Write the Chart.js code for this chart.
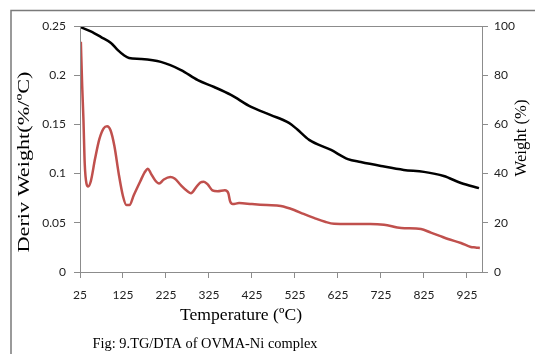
<!DOCTYPE html>
<html>
<head>
<meta charset="utf-8">
<script src="https://cdn.jsdelivr.net/npm/chart.js@4.4.1/dist/chart.umd.min.js"></script>
<style>
  html, body { margin: 0; padding: 0; background: #fff; }
  #wrap { width: 535px; height: 354px; position: relative; }
</style>
</head>
<body>
<div id="wrap"><canvas id="tgChart" width="535" height="354"></canvas></div>
<script>
// TG curve (weight %, right axis)
const tgTemps = [25, 50, 74, 97, 113, 128, 139, 167, 213, 260, 299, 337, 376, 423, 469, 511, 530, 558, 609, 648, 678, 725, 778, 825, 871, 911, 953];
const tgWeight = [99.6, 97.8, 95.5, 93.1, 90.2, 88.0, 87.0, 86.6, 85.4, 82.1, 78.0, 75.2, 72.0, 67.1, 63.8, 60.6, 58.0, 53.7, 49.6, 45.9, 44.7, 43.1, 41.5, 40.7, 39.0, 36.2, 34.1];

// DTA curve (derivative weight, left axis)
const dtaTemps = [27, 30, 33, 36, 40, 44, 50, 60, 70, 80, 88, 96, 105, 115, 125, 133, 140, 150, 165, 175, 183, 190, 200, 209, 220, 235, 245, 260, 275, 283, 295, 305, 313, 322, 333, 345, 362, 370, 374, 380, 395, 425, 460, 492, 523, 545, 569, 595, 616, 650, 700, 732, 772, 818, 841, 860, 881, 911, 934, 945, 955];
const dtaDeriv = [0.234, 0.19, 0.155, 0.11, 0.09, 0.087, 0.092, 0.115, 0.135, 0.146, 0.148, 0.144, 0.128, 0.1, 0.077, 0.068, 0.068, 0.078, 0.092, 0.101, 0.105, 0.1, 0.093, 0.09, 0.094, 0.0965, 0.095, 0.088, 0.082, 0.08, 0.086, 0.091, 0.0918, 0.089, 0.083, 0.082, 0.083, 0.08, 0.072, 0.069, 0.07, 0.069, 0.068, 0.067, 0.063, 0.059, 0.055, 0.051, 0.049, 0.0488, 0.0488, 0.048, 0.0447, 0.0437, 0.04, 0.037, 0.0335, 0.0295, 0.0254, 0.025, 0.0244];

const xTickValues = [25, 125, 225, 325, 425, 525, 625, 725, 825, 925];

const axisGray = '#8c8c8c';
const tickFont = { family: 'Lato', size: 12 };

// draws text squeezed/stretched to a given width
function fitText(ctx, text, cx, cy, font, width, rot) {
  ctx.save();
  ctx.font = font;
  ctx.fillStyle = '#000';
  ctx.textAlign = 'center';
  ctx.textBaseline = 'middle';
  ctx.translate(cx, cy);
  if (rot) ctx.rotate(rot);
  const w = ctx.measureText(text).width;
  ctx.scale(width / w, 1);
  ctx.fillText(text, 0, 0);
  ctx.restore();
}

const decorPlugin = {
  id: 'decor',
  beforeDraw(chart) {
    const ctx = chart.ctx;
    ctx.save();
    ctx.strokeStyle = '#7a7a7a';
    ctx.lineWidth = 1.5;
    ctx.beginPath();
    ctx.moveTo(11, 354);
    ctx.lineTo(11, 10.5);
    ctx.lineTo(535, 10.5);
    ctx.stroke();
    ctx.restore();
  },
  afterDraw(chart) {
    const ctx = chart.ctx;
    const a = chart.chartArea;
    ctx.save();
    ctx.strokeStyle = axisGray;
    ctx.lineWidth = 1;
    ctx.strokeRect(a.left + 0.5, a.top + 0.5, a.right - a.left, a.bottom - a.top);
    ctx.restore();
    fitText(ctx, 'Temperature (ºC)', 241, 316, '17px "Liberation Serif"', 122);
    fitText(ctx, 'Fig: 9.TG/DTA of OVMA-Ni complex', 205, 344, '14px "Liberation Serif"', 225);
    fitText(ctx, 'Deriv Weight(%/ºC)', 25, 162, '17px "Liberation Serif"', 181, -Math.PI / 2);
    fitText(ctx, 'Weight (%)', 522, 138, '17px "Liberation Serif"', 77, -Math.PI / 2);
  }
};

new Chart(document.getElementById('tgChart'), {
  type: 'line',
  data: {
    datasets: [
      {
        label: 'Weight',
        data: tgTemps.map((t, i) => ({ x: t, y: tgWeight[i] })),
        yAxisID: 'y2',
        borderColor: '#000000',
        borderWidth: 2.5,
        pointRadius: 0,
        cubicInterpolationMode: 'monotone'
      },
      {
        label: 'Deriv Weight',
        data: dtaTemps.map((t, i) => ({ x: t, y: dtaDeriv[i] })),
        yAxisID: 'y',
        borderColor: '#c0504d',
        borderWidth: 2.5,
        pointRadius: 0,
        cubicInterpolationMode: 'monotone'
      }
    ]
  },
  options: {
    responsive: false,
    animation: false,
    layout: { padding: { top: 26, left: 0, right: 0, bottom: 0 } },
    plugins: { legend: { display: false }, tooltip: { enabled: false } },
    scales: {
      x: {
        type: 'linear',
        min: 25,
        max: 960,
        afterBuildTicks: (s) => { s.ticks = xTickValues.map(v => ({ value: v })); },
        afterFit: (s) => { s.height = 82; },
        border: { color: axisGray },
        grid: { drawOnChartArea: false, tickLength: 6, color: axisGray },
        ticks: { font: tickFont, color: '#222', padding: 10, maxRotation: 0, autoSkip: false }
      },
      y: {
        position: 'left',
        min: 0,
        max: 0.25,
        afterFit: (s) => { s.width = 80; },
        border: { color: axisGray },
        grid: { drawOnChartArea: false, tickLength: 6, color: axisGray },
        ticks: {
          stepSize: 0.05, font: tickFont, color: '#222', padding: 8,
          callback: (v) => String(Math.round(v * 100) / 100)
        }
      },
      y2: {
        position: 'right',
        min: 0,
        max: 100,
        afterFit: (s) => { s.width = 53; },
        border: { color: axisGray },
        grid: { drawOnChartArea: false, tickLength: 6, color: axisGray },
        ticks: { stepSize: 20, font: tickFont, color: '#222', padding: 6 }
      }
    }
  },
  plugins: [decorPlugin]
});
</script>
</body>
</html>
